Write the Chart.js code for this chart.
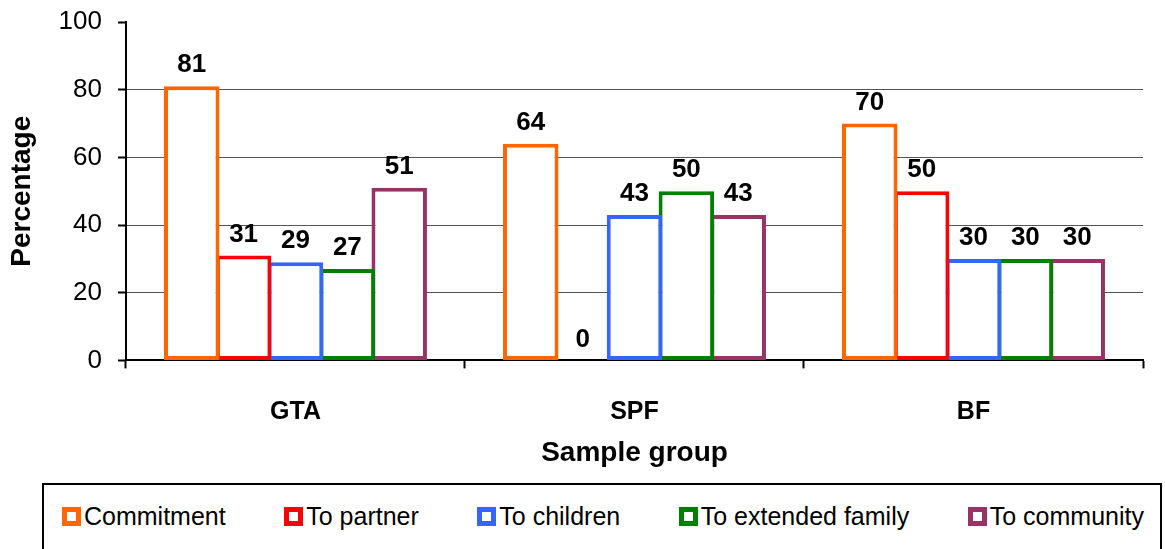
<!DOCTYPE html>
<html>

<head>
  <meta charset="utf-8">
  <title>Sample group percentages</title>
  <style>
    body {
      background-color: #FFF;
      font-family: "Liberation Sans", Arial, sans-serif;
      margin: 0;
      padding: 0;
      width: 1165px;
      height: 549px;
      overflow: hidden;
      position: relative;
    }

    .chart-box {
      position: absolute;
      left: 0;
      top: 0;
      width: 1165px;
      height: 483px;
    }

    .legend {
      position: absolute;
      left: 42px;
      top: 483px;
      width: 1120px;
      height: 80px;
      border: 2px solid #000;
      box-sizing: border-box;
      display: flex;
      justify-content: space-between;
      align-items: flex-start;
      padding: 18px 16px 0 18px;
    }

    .legend-item {
      display: flex;
      align-items: center;
      font-size: 25px;
      color: #000;
      line-height: 26px;
    }

    .legend-swatch {
      width: 19px;
      height: 19px;
      box-sizing: border-box;
      border: 5px solid;
      background: #FFF;
      margin-right: 3px;
    }
  </style>
</head>

<body>
  <div class="chart-box">
    <canvas id="groupChart"></canvas>
  </div>
  <div class="legend" id="legend"></div>

  <script src="https://cdn.jsdelivr.net/npm/chart.js"></script>

  <script>
    // Data
    const groups = ['GTA', 'SPF', 'BF'];
    const seriesNames = ['Commitment', 'To partner', 'To children', 'To extended family', 'To community'];
    const commitment = [81, 64, 70];
    const toPartner = [31, 0, 50];
    const toChildren = [29, 43, 30];
    const toExtendedFamily = [27, 50, 30];
    const toCommunity = [51, 43, 30];
    const yTicks = [0, 20, 40, 60, 80, 100];

    const seriesValues = [commitment, toPartner, toChildren, toExtendedFamily, toCommunity];
    const seriesColors = ['#FF6600', '#FF0000', '#3366FF', '#008000', '#993366'];
    const FONT = '"Liberation Sans", Arial, sans-serif';

    // Value labels above each bar
    const valueLabels = {
      id: 'valueLabels',
      afterDatasetsDraw(chart) {
        const ctx = chart.ctx;
        ctx.save();
        ctx.font = 'bold 26px ' + FONT;
        ctx.fillStyle = '#000';
        ctx.textAlign = 'center';
        ctx.textBaseline = 'middle';
        chart.data.datasets.forEach((ds, i) => {
          chart.getDatasetMeta(i).data.forEach((bar, j) => {
            ctx.fillText(String(ds.data[j]), bar.x, bar.y - 21);
          });
        });
        ctx.restore();
      }
    };

    const ctx = document.getElementById('groupChart').getContext('2d');
    const groupChart = new Chart(ctx, {
      type: 'bar',
      data: {
        labels: groups,
        datasets: seriesNames.map((name, i) => ({
          label: name,
          data: seriesValues[i],
          backgroundColor: '#FFF',
          borderColor: seriesColors[i],
          borderWidth: 4,
          borderSkipped: false,
          categoryPercentage: 0.765,
          barPercentage: 1.07
        }))
      },
      options: {
        responsive: true,
        maintainAspectRatio: false,
        animation: false,
        layout: { padding: { top: 22, right: 22, bottom: 13, left: 0 } },
        plugins: {
          legend: { display: false },
          tooltip: { enabled: false }
        },
        scales: {
          x: {
            grid: {
              offset: true,
              drawOnChartArea: false,
              tickLength: 8,
              tickColor: '#000',
              tickWidth: 2
            },
            border: { color: '#000', width: 2 },
            ticks: {
              color: '#000',
              padding: 29,
              font: { family: FONT, size: 25, weight: 'bold' }
            },
            title: {
              display: true,
              text: 'Sample group',
              color: '#000',
              // ticks.padding is counted twice by the scale fit, pull the title back up
              padding: { top: -20, bottom: 0 },
              font: { family: FONT, size: 28, weight: 'bold' }
            }
          },
          y: {
            min: 0,
            max: 100,
            afterBuildTicks(scale) {
              scale.ticks = yTicks.map(v => ({ value: v }));
            },
            // the tick padding also gets added above the top label, drop it there
            afterFit(scale) {
              scale.paddingTop -= scale.options.ticks.padding;
            },
            grid: {
              color: c => (c.tick && c.tick.value === 100) ? 'rgba(0,0,0,0)' : '#555',
              lineWidth: 1,
              tickLength: 8,
              tickColor: '#000',
              tickWidth: 2
            },
            border: { color: '#000', width: 2 },
            ticks: {
              color: '#000',
              padding: 16,
              font: { family: FONT, size: 26 }
            },
            title: {
              display: true,
              text: 'Percentage',
              color: '#000',
              padding: { top: 5, bottom: 4 },
              font: { family: FONT, size: 28, weight: 'bold' }
            }
          }
        }
      },
      plugins: [valueLabels]
    });

    // Legend boxed under the chart
    const legend = document.getElementById('legend');
    seriesNames.forEach((name, i) => {
      const item = document.createElement('div');
      item.className = 'legend-item';
      const swatch = document.createElement('span');
      swatch.className = 'legend-swatch';
      swatch.style.borderColor = seriesColors[i];
      item.appendChild(swatch);
      item.appendChild(document.createTextNode(name));
      legend.appendChild(item);
    });
  </script>
</body>

</html>
